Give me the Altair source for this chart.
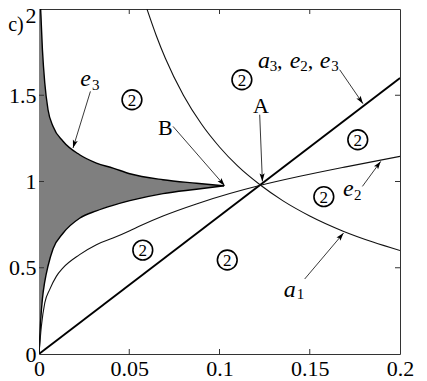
import altair as alt
import pandas as pd
import numpy as np

# ---------------- data ----------------
x_ticks = [0, 0.05, 0.1, 0.15, 0.2]
y_ticks = [0, 0.5, 1, 1.5, 2]
x_inner_ticks = [0.05, 0.1, 0.15]
y_inner_ticks = [0.5, 1, 1.5]

# a3 straight line
a3_x = [0.0, 0.2]
a3_y = [0.0, 1.6]

# e2 curve
e2_x = [0, 0.0013, 0.0032, 0.0059, 0.0096, 0.0133, 0.0225, 0.0318, 0.041, 0.0503,
        0.0558, 0.0687, 0.0872, 0.1057, 0.1228, 0.1445, 0.17, 0.2]
e2_y = [0, 0.16, 0.296, 0.373, 0.45, 0.499, 0.576, 0.634, 0.672, 0.715,
        0.742, 0.80, 0.87, 0.93, 0.978, 1.03, 1.085, 1.146]

# a1 curve
a1_x = [0.0598, 0.065, 0.07, 0.08, 0.09, 0.1, 0.11, 0.1228, 0.135, 0.15, 0.1685, 0.185, 0.2]
a1_y = [2.0, 1.845, 1.714, 1.5, 1.333, 1.2, 1.09, 0.978, 0.889, 0.8, 0.712, 0.649, 0.6]

# e3 shaded region (lower and upper boundaries)
e3_x = [0, 0.0009, 0.0019, 0.0032, 0.005, 0.0078, 0.0133, 0.0225, 0.0318, 0.041,
        0.0503, 0.0687, 0.0872, 0.1025]
e3_low = [0, 0.19, 0.32, 0.42, 0.51, 0.61, 0.70, 0.787, 0.83, 0.862,
          0.889, 0.93, 0.955, 0.975]
e3_up = [2.0, 2.0, 1.764, 1.571, 1.416, 1.319, 1.233, 1.155, 1.107, 1.078,
         1.045, 1.01, 0.99, 0.975]

# circled "2" region markers
c2_x = [0.0515, 0.1124, 0.1766, 0.1578, 0.1043, 0.0575]
c2_y = [1.474, 1.590, 1.242, 0.912, 0.545, 0.602]

# label anchors (left edge / baseline)
lab_c_x, lab_c_y = -0.0171, 1.870
lab_e3_x, lab_e3_y = 0.0229, 1.551
lab_B_x, lab_B_y = 0.0659, 1.271
lab_A_x, lab_A_y = 0.1186, 1.397
lab_a3_x, lab_a3_y = 0.1213, 1.658
lab_e2_x, lab_e2_y = 0.1684, 0.9136
lab_a1_x, lab_a1_y = 0.1356, 0.3322

# annotation arrows (start -> tip)
arr_x0 = [0.02848, 0.07424, 0.12227, 0.16659, 0.17917, 0.1472]
arr_y0 = [1.5223, 1.3194, 1.3873, 1.648, 0.9716, 0.4348]
arr_x1 = [0.01884, 0.10288, 0.12377, 0.1795, 0.18931, 0.16875]
arr_y1 = [1.1942, 0.9757, 1.0006, 1.451, 1.1165, 0.7014]

# ---------------- chart ----------------
W, H = 361, 345
FONT = "Liberation Serif"

xs = alt.Scale(domain=[0, 0.2], nice=False, zero=False)
ys = alt.Scale(domain=[0, 2], nice=False, zero=False)
xaxis = alt.Axis(values=x_ticks, format="~g", labelFont=FONT, labelFontSize=22,
                 labelColor="black", labelPadding=4, ticks=False, domain=False,
                 grid=False, title=None, labelOverlap=False, labelFlush=False)
yaxis = alt.Axis(values=y_ticks, format="~g", labelFont=FONT, labelFontSize=22,
                 labelColor="black", labelPadding=3, ticks=False, domain=False,
                 grid=False, title=None, labelOverlap=False, labelFlush=False,
                 labelOffset={"condition": {"test": "datum.value == 2", "value": 6}, "value": 0})


def X(f):
    return alt.X(f, type="quantitative", scale=xs, axis=xaxis)


def Y(f):
    return alt.Y(f, type="quantitative", scale=ys, axis=yaxis)


layers = []

e3_df = pd.DataFrame({"x": e3_x, "low": e3_low, "up": e3_up})
layers.append(alt.Chart(e3_df).mark_area(color="#7f7f7f", opacity=1, clip=True, interpolate="monotone")
              .encode(x=X("x"), y=Y("low"), y2=alt.Y2("up")))
layers.append(alt.Chart(e3_df).mark_line(color="black", strokeWidth=1.4, clip=True, interpolate="monotone")
              .encode(x=X("x"), y=Y("low")))
layers.append(alt.Chart(e3_df.iloc[1:]).mark_line(color="black", strokeWidth=1.4, clip=True,
                                                   interpolate="monotone")
              .encode(x=X("x"), y=Y("up")))

layers.append(alt.Chart(pd.DataFrame({"x": a3_x, "y": a3_y}))
              .mark_line(color="black", strokeWidth=1.8, clip=True)
              .encode(x=X("x"), y=Y("y")))
layers.append(alt.Chart(pd.DataFrame({"x": e2_x, "y": e2_y}))
              .mark_line(color="#111", strokeWidth=1.1, clip=True, interpolate="monotone")
              .encode(x=X("x"), y=Y("y")))
layers.append(alt.Chart(pd.DataFrame({"x": a1_x, "y": a1_y}))
              .mark_line(color="#111", strokeWidth=1.1, clip=True, interpolate="monotone")
              .encode(x=X("x"), y=Y("y")))

# inward ticks
xt = pd.DataFrame({"x": x_inner_ticks})
yt = pd.DataFrame({"y": y_inner_ticks})
tick_style = dict(color="#333", strokeWidth=1)
layers.append(alt.Chart(xt).mark_rule(**tick_style).encode(x=X("x"), y=alt.value(H), y2=alt.value(H - 5)))
layers.append(alt.Chart(xt).mark_rule(**tick_style).encode(x=X("x"), y=alt.value(0), y2=alt.value(5)))
layers.append(alt.Chart(yt).mark_rule(**tick_style).encode(y=Y("y"), x=alt.value(0), x2=alt.value(5)))
layers.append(alt.Chart(yt).mark_rule(**tick_style).encode(y=Y("y"), x=alt.value(W - 5), x2=alt.value(W)))

# circled 2 markers
c2 = pd.DataFrame({"x": c2_x, "y": c2_y})
layers.append(alt.Chart(c2).mark_point(shape="circle", filled=False, size=390, strokeWidth=1.6,
                                       color="black", opacity=1)
              .encode(x=X("x"), y=Y("y")))
layers.append(alt.Chart(c2).mark_text(text="2", font=FONT, fontSize=17, align="center",
                                      baseline="middle", dy=1, color="black")
              .encode(x=X("x"), y=Y("y")))

# arrows
arr = pd.DataFrame({"x0": arr_x0, "y0": arr_y0, "x1": arr_x1, "y1": arr_y1})
sx, sy = W / 0.2, H / 2.0
dxp = (arr["x1"] - arr["x0"]) * sx
dyp = -(arr["y1"] - arr["y0"]) * sy
arr["ang"] = np.mod(np.degrees(np.arctan2(dxp, -dyp)), 360)
layers.append(alt.Chart(arr).mark_rule(color="#222", strokeWidth=0.9)
              .encode(x=X("x0"), y=Y("y0"), x2=alt.X2("x1"), y2=alt.Y2("y1")))
layers.append(alt.Chart(arr).mark_point(shape="M0,0L-0.32,1L0,0.8L0.32,1Z", filled=True,
                                        size=256, color="black", opacity=1, strokeWidth=0)
              .encode(x=X("x1"), y=Y("y1"), angle=alt.Angle("ang:Q", scale=None)))


def label(x, y, pieces):
    df = pd.DataFrame({"x": [x], "y": [y]})
    out = []
    for txt, dx, dy, size, style in pieces:
        out.append(alt.Chart(df).mark_text(text=txt, font=FONT, fontSize=size, fontStyle=style,
                                           align="left", baseline="alphabetic", dx=dx, dy=dy,
                                           color="black")
                   .encode(x=X("x"), y=Y("y")))
    return out


IT, UP = "italic", "normal"
layers += label(lab_c_x, lab_c_y, [("c)", 0, 0, 20, UP)])
layers += label(lab_e3_x, lab_e3_y, [("e", 0, 0, 24, IT), ("3", 11.6, 4, 15, UP)])
layers += label(lab_B_x, lab_B_y, [("B", 0, 0, 22, UP)])
layers += label(lab_A_x, lab_A_y, [("A", 0, 0, 22, UP)])
layers += label(lab_a3_x, lab_a3_y, [("a", 0, 0, 24, IT), ("3", 11.7, 3.4, 15, UP),
                                     (",", 19, 0, 22, UP), ("e", 31.7, 0, 24, IT),
                                     ("2", 42.4, 3.4, 15, UP), (",", 49.7, 0, 22, UP),
                                     ("e", 61.7, 0, 24, IT), ("3", 73.4, 3.4, 15, UP)])
layers += label(lab_e2_x, lab_e2_y, [("e", 0, 0, 24, IT), ("2", 11, 3.3, 15, UP)])
layers += label(lab_a1_x, lab_a1_y, [("a", 0, 0, 24, IT), ("1", 13, 2, 15, UP)])

chart = (alt.layer(*layers)
         .properties(width=W, height=H,
                     padding={"left": 31, "top": 1, "right": 19, "bottom": 27},
                     autosize=alt.AutoSizeParams(type="none"),
                     background="white")
         .configure_view(stroke="#333", strokeWidth=1))

chart.save("out.html", embed_options={"renderer": "svg", "actions": False})
